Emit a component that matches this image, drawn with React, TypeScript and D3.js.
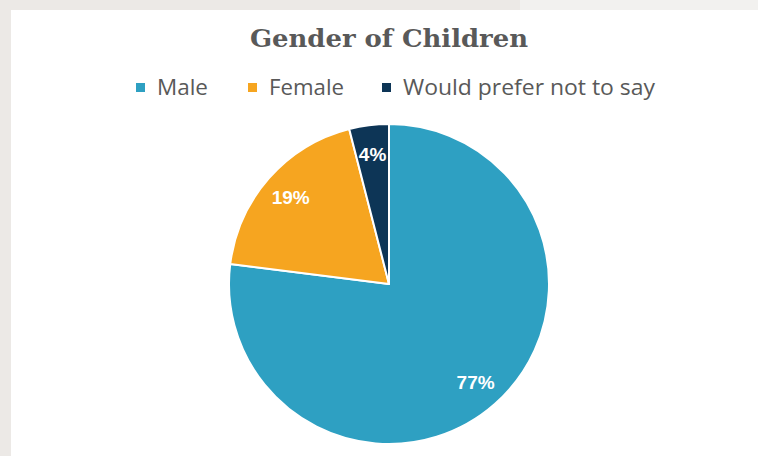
import React from "react";
import * as d3 from "d3";

const categories = ["Male", "Female", "Would prefer not to say"];
const values = [77, 19, 4];
const colors = ["#2ea0c2", "#f6a520", "#0d3556"];
const title = "Gender of Children";

const W = 758;
const H = 456;

export default function App() {
  const cx = 389;
  const cy = 284;
  const R = 160;
  const total = d3.sum(values);
  const pie = d3.pie<number>().sort(null).value((d) => d)(values);
  const arc = d3.arc<d3.PieArcDatum<number>>().innerRadius(0).outerRadius(R);
  const labelArc = d3.arc<d3.PieArcDatum<number>>().innerRadius(131).outerRadius(131);

  const legendX = [136, 248, 382];
  const legendTextW = [51, 75, 252];

  return (
    <div style={{ position: "absolute", left: 0, top: 0 }}>
      <svg width={W} height={H} style={{ display: "block" }}>
        <rect x={0} y={0} width={W} height={H} fill="#ece9e6" />
        <rect x={520} y={0} width={W - 520} height={10} fill="#f2f1ef" />
        <rect x={11} y={10} width={W - 11} height={H - 10} fill="#ffffff" />
        <text
          x={389}
          y={47}
          textAnchor="middle"
          fontFamily="'DejaVu Serif', serif"
          fontWeight="bold"
          fontSize={25}
          fill="#595959"
          textLength={278}
          lengthAdjust="spacingAndGlyphs"
        >
          {title}
        </text>
        {categories.map((c, i) => (
          <g key={c}>
            <rect x={legendX[i]} y={83} width={9} height={9} fill={colors[i]} />
            <text
              x={legendX[i] + 21}
              y={95}
              fontFamily="'Open Sans', sans-serif"
              fontSize={21}
              fill="#595959"
              textLength={legendTextW[i]}
              lengthAdjust="spacingAndGlyphs"
            >
              {c}
            </text>
          </g>
        ))}
        <g transform={`translate(${cx},${cy})`}>
          {pie.map((p, i) => (
            <path key={i} d={arc(p) || ""} fill={colors[i]} stroke="#ffffff" strokeWidth={2} strokeLinejoin="round" />
          ))}
          {pie.map((p, i) => {
            const [lx, ly] = labelArc.centroid(p);
            return (
              <text
                key={"l" + i}
                x={lx}
                y={ly}
                dy="0.35em"
                textAnchor="middle"
                fontFamily="'Liberation Sans', Arial, sans-serif"
                fontWeight="bold"
                fontSize={19}
                fill="#ffffff"
              >
                {Math.round((values[i] / total) * 100)}%
              </text>
            );
          })}
        </g>
      </svg>
    </div>
  );
}
